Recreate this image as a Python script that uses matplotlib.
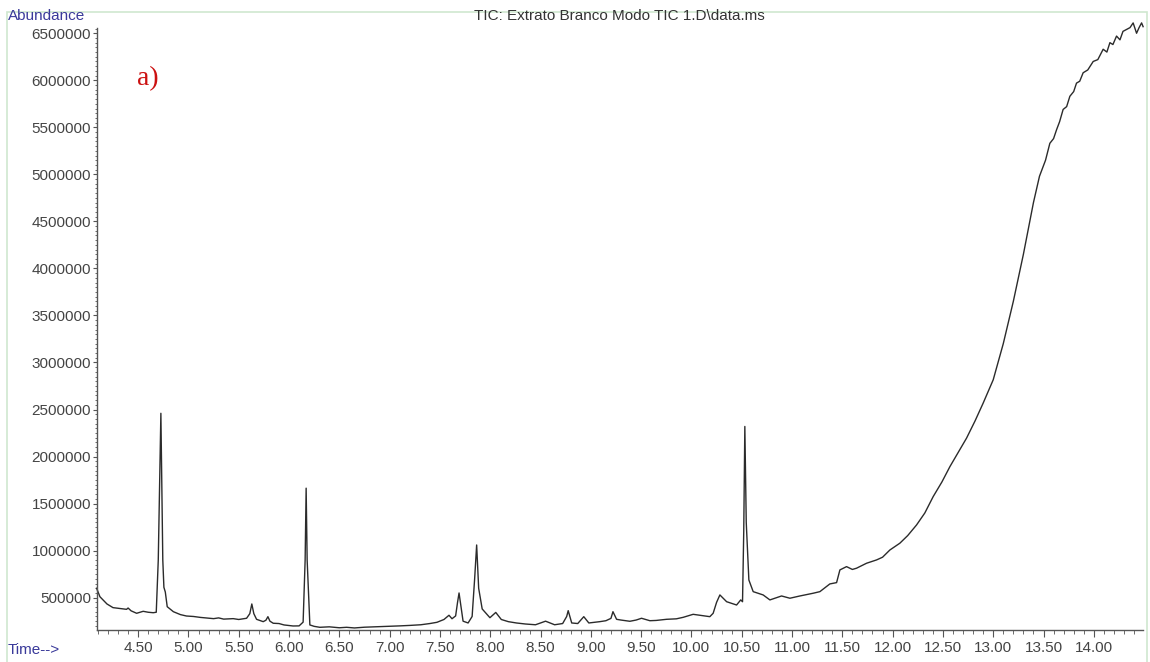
import matplotlib
matplotlib.use("Agg")
import matplotlib.pyplot as plt
from matplotlib.ticker import MultipleLocator, FixedLocator
from matplotlib.patches import Rectangle

time_min = [
    4.087, 4.12, 4.19, 4.25, 4.32, 4.385, 4.40, 4.43, 4.485, 4.52, 4.55, 4.60, 4.65, 4.68,
    4.70, 4.726, 4.745, 4.756, 4.77, 4.789, 4.85, 4.92, 4.98, 5.05, 5.12, 5.25, 5.30, 5.35,
    5.445, 5.50, 5.578, 5.61, 5.63, 5.65, 5.677, 5.743, 5.77, 5.79, 5.81, 5.843, 5.90, 5.95,
    6.04, 6.10, 6.14, 6.16, 6.17, 6.18, 6.207, 6.25, 6.306, 6.40, 6.50, 6.572, 6.65, 6.75,
    6.903, 7.00, 7.10, 7.20, 7.31, 7.40, 7.47, 7.54, 7.59, 7.62, 7.656, 7.675, 7.69, 7.71,
    7.73, 7.78, 7.82, 7.845, 7.865, 7.885, 7.92, 7.997, 8.055, 8.11, 8.18, 8.26, 8.35, 8.45,
    8.55, 8.64, 8.72, 8.76, 8.775, 8.81, 8.87, 8.93, 8.98, 9.09, 9.15, 9.20, 9.22, 9.256,
    9.30, 9.388, 9.45, 9.504, 9.587, 9.65, 9.753, 9.85, 9.918, 10.017, 10.10, 10.183, 10.216,
    10.25, 10.283, 10.35, 10.449, 10.49, 10.508, 10.52, 10.531, 10.545, 10.571, 10.614,
    10.713, 10.78, 10.896, 10.979, 11.078, 11.21, 11.277, 11.376, 11.443, 11.476, 11.542,
    11.60, 11.641, 11.741, 11.84, 11.90, 11.973, 12.072, 12.15, 12.238, 12.32, 12.403,
    12.49, 12.57, 12.65, 12.735, 12.82, 12.9, 13.0, 13.1, 13.2, 13.3, 13.4, 13.46, 13.52,
    13.563, 13.60, 13.63, 13.66, 13.695, 13.73, 13.762, 13.80, 13.828, 13.86, 13.894, 13.94,
    13.994, 14.04, 14.093, 14.13, 14.16, 14.19, 14.226, 14.26, 14.29, 14.326, 14.36, 14.391,
    14.425, 14.45, 14.475, 14.49,
]
abundance = [
    600000, 510000, 433000, 394000, 385000, 376000, 390000, 360000, 334000, 345000, 355000, 345000, 340000, 345000,
    900000, 2460000, 900000, 610000, 560000, 404000, 351000, 320000, 305000, 300000, 290000, 277000, 285000, 272000,
    277000, 268000, 281000, 330000, 433000, 330000, 270000, 245000, 260000, 298000, 250000, 228000, 225000, 210000,
    199000, 200000, 240000, 900000, 1664000, 900000, 210000, 195000, 185000, 190000, 180000, 185000, 178000, 186000,
    192000, 196000, 200000, 205000, 212000, 225000, 238000, 268000, 313000, 276000, 306000, 450000, 550000, 400000,
    250000, 231000, 300000, 700000, 1060000, 600000, 380000, 287000, 343000, 268000, 245000, 231000, 220000, 212000,
    250000, 212000, 225000, 300000, 362000, 231000, 225000, 298000, 231000, 245000, 255000, 280000, 351000, 270000,
    262000, 249000, 262000, 281000, 255000, 258000, 270000, 275000, 291000, 323000, 310000, 298000, 334000,
    450000, 529000, 457000, 422000, 476000, 457000, 1200000, 2320000, 1300000, 688000, 564000,
    529000, 476000, 518000, 494000, 518000, 547000, 564000, 646000, 660000, 795000, 830000,
    800000, 813000, 866000, 901000, 930000, 1007000, 1079000, 1160000, 1273000, 1400000, 1574000,
    1730000, 1894000, 2040000, 2196000, 2380000, 2568000, 2816000, 3200000, 3650000, 4150000, 4700000, 4980000, 5150000,
    5330000, 5380000, 5475000, 5560000, 5690000, 5720000, 5830000, 5880000, 5970000, 5990000, 6080000, 6110000,
    6200000, 6220000, 6330000, 6300000, 6400000, 6380000, 6470000, 6430000, 6520000, 6540000, 6560000, 6610000,
    6500000, 6560000, 6610000, 6570000,
]

x_ticks = [4.5, 5.0, 5.5, 6.0, 6.5, 7.0, 7.5, 8.0, 8.5, 9.0, 9.5, 10.0, 10.5, 11.0, 11.5,
           12.0, 12.5, 13.0, 13.5, 14.0]
y_ticks = [500000, 1000000, 1500000, 2000000, 2500000, 3000000, 3500000, 4000000,
           4500000, 5000000, 5500000, 6000000, 6500000]

plt.rcParams['font.family'] = ['Liberation Sans', 'DejaVu Sans']

fig = plt.figure(figsize=(11.5, 6.62), dpi=100)
ax = fig.add_axes([0.084, 0.0483, 0.91, 0.91])

ax.plot(time_min, abundance, color='#2b2b2b', linewidth=1.0, clip_on=False)

ax.set_xlim(4.087, 14.49)
ax.set_ylim(156000, 6560000)

ax.xaxis.set_major_locator(FixedLocator(x_ticks))
ax.xaxis.set_minor_locator(MultipleLocator(0.1))
ax.yaxis.set_major_locator(FixedLocator(y_ticks))
ax.yaxis.set_minor_locator(MultipleLocator(50000))
ax.set_xticklabels(['%.2f' % v for v in x_ticks])
ax.set_yticklabels([str(v) for v in y_ticks])

for s in ['top', 'right']:
    ax.spines[s].set_visible(False)
for s in ['left', 'bottom']:
    ax.spines[s].set_color('#555555')
    ax.spines[s].set_linewidth(1.0)

ax.tick_params(axis='both', which='major', labelsize=11, labelcolor='#444444', color='#555555')
ax.tick_params(axis='x', which='major', length=5, pad=3)
ax.tick_params(axis='x', which='minor', length=3, color='#555555')
ax.tick_params(axis='y', which='major', length=3, pad=1)
ax.tick_params(axis='y', which='minor', length=1.5, color='#555555')

fig.text(0.007, 0.976, 'Abundance', fontsize=11, color='#3a3a9a', va='center', ha='left')
fig.text(0.007, 0.018, 'Time-->', fontsize=11, color='#3a3a9a', va='center', ha='left')
fig.text(0.539, 0.976, 'TIC: Extrato Branco Modo TIC 1.D\\data.ms', fontsize=11,
         color='#333333', va='center', ha='center')
fig.text(0.119, 0.882, 'a)', fontsize=20, color='#cc1111', family='Liberation Serif',
         va='center', ha='left')

fig.patches.append(Rectangle((0.006, -0.01), 0.991, 0.9925, transform=fig.transFigure,
                             fill=False, edgecolor='#cfe8cf', linewidth=1.2))

fig.savefig('out.png', dpi=100)
